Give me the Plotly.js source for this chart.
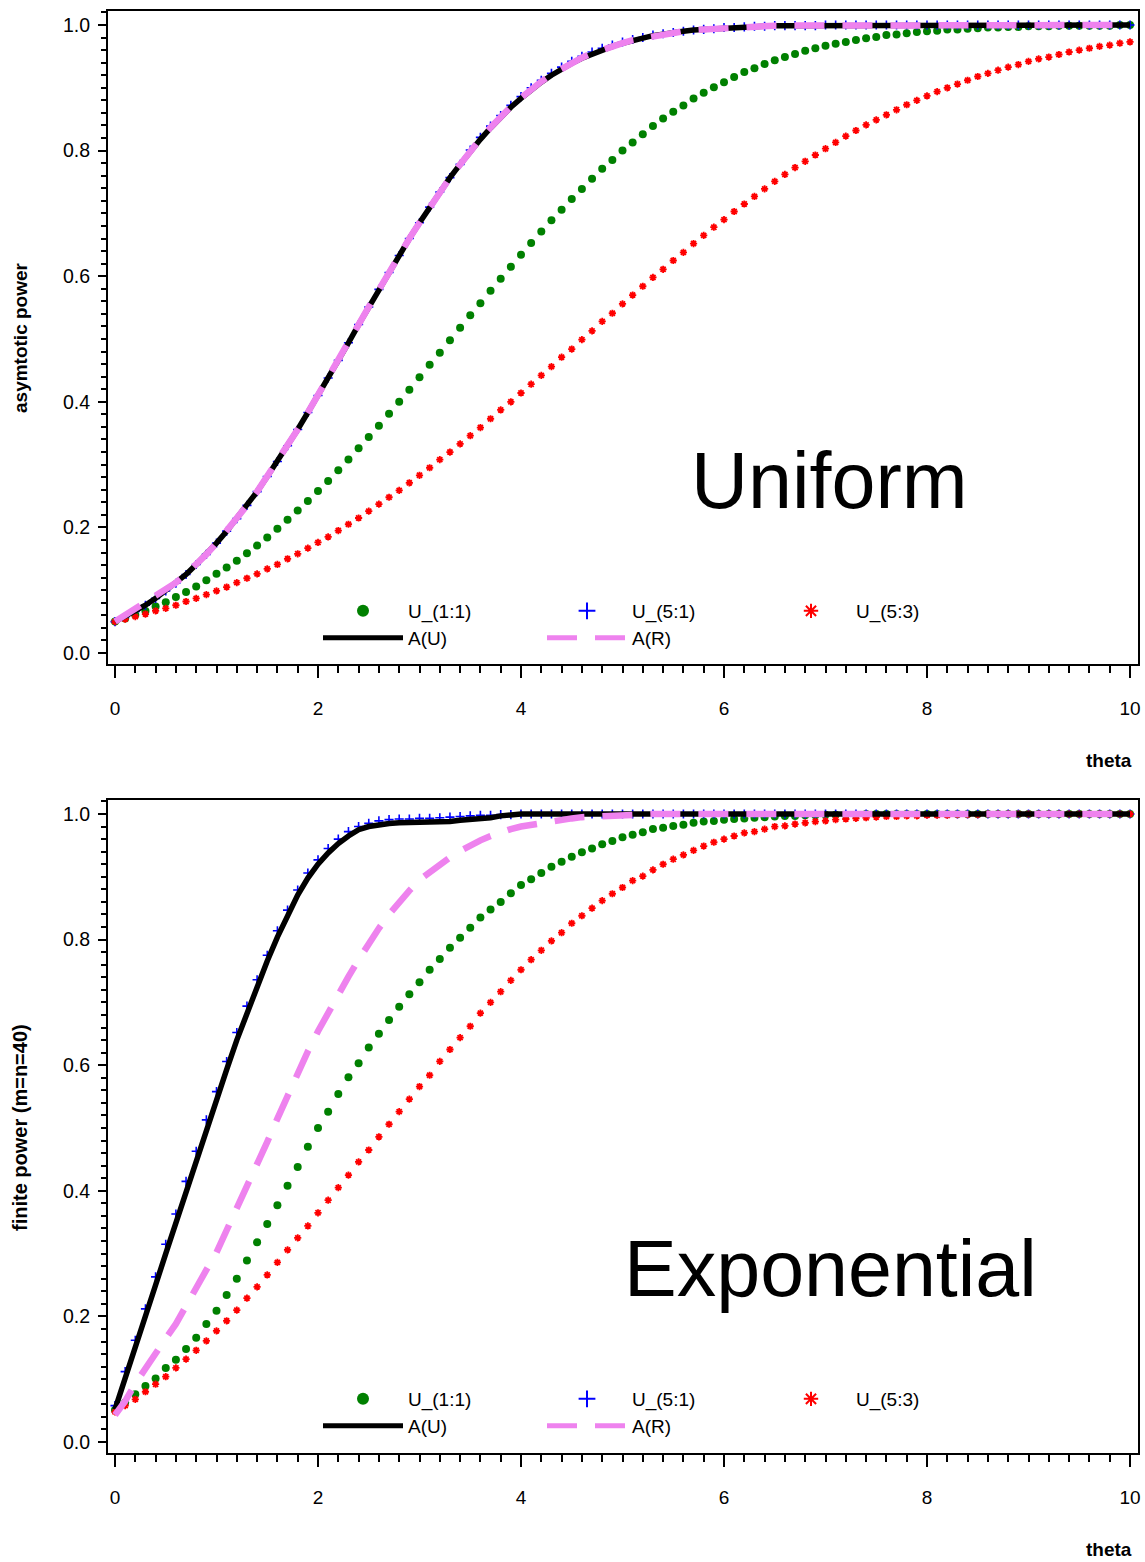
<!DOCTYPE html>
<html>
<head>
<meta charset="utf-8">
<script src="https://cdn.plot.ly/plotly-3.0.1.min.js"></script>
<style>
  html, body { margin: 0; padding: 0; background: #ffffff; }
  #chart { width: 1145px; height: 1562px; }
</style>
</head>
<body>
<div id="chart"></div>
<script>
// ---------------- DATA ----------------
var theta = [
  0.0,0.1,0.2,0.3,0.4,0.5,0.6,0.7,0.8,0.9,
  1.0,1.1,1.2,1.3,1.4,1.5,1.6,1.7,1.8,1.9,
  2.0,2.1,2.2,2.3,2.4,2.5,2.6,2.7,2.8,2.9,
  3.0,3.1,3.2,3.3,3.4,3.5,3.6,3.7,3.8,3.9,
  4.0,4.1,4.2,4.3,4.4,4.5,4.6,4.7,4.8,4.9,
  5.0,5.1,5.2,5.3,5.4,5.5,5.6,5.7,5.8,5.9,
  6.0,6.1,6.2,6.3,6.4,6.5,6.6,6.7,6.8,6.9,
  7.0,7.1,7.2,7.3,7.4,7.5,7.6,7.7,7.8,7.9,
  8.0,8.1,8.2,8.3,8.4,8.5,8.6,8.7,8.8,8.9,
  9.0,9.1,9.2,9.3,9.4,9.5,9.6,9.7,9.8,9.9,
  10.0
];

var seriesNames = ["U_(1:1)", "U_(5:1)", "U_(5:3)", "A(U)", "A(R)"];
var panelLabels = ["Uniform", "Exponential"];
var yTitles = ["asymtotic power", "finite power (m=n=40)"];
var xTitle = "theta";
var xTickVals = [0, 2, 4, 6, 8, 10];
var yTickVals = [0.0, 0.2, 0.4, 0.6, 0.8, 1.0];

// Top panel: Uniform, asymptotic power
var uniU11 = [
  0.050,0.055,0.061,0.067,0.074,0.081,0.089,0.097,0.106,0.116,
  0.126,0.136,0.147,0.159,0.171,0.184,0.198,0.212,0.227,0.242,
  0.258,0.274,0.291,0.308,0.326,0.344,0.362,0.381,0.400,0.419,
  0.439,0.459,0.478,0.498,0.518,0.538,0.557,0.577,0.596,0.615,
  0.634,0.653,0.671,0.689,0.706,0.723,0.739,0.755,0.771,0.785,
  0.800,0.813,0.826,0.839,0.851,0.862,0.872,0.883,0.892,0.901,
  0.909,0.917,0.925,0.931,0.938,0.944,0.949,0.954,0.959,0.963,
  0.967,0.970,0.973,0.976,0.979,0.981,0.984,0.985,0.987,0.989,
  0.990,0.991,0.993,0.993,0.994,0.995,0.996,0.996,0.997,0.997,
  0.998,0.998,0.998,0.999,0.999,0.999,0.999,0.999,0.999,1.000,
  1.000
];
var uniU51 = [
  0.050,0.058,0.066,0.076,0.087,0.099,0.111,0.125,0.141,0.157,
  0.175,0.194,0.214,0.235,0.257,0.281,0.305,0.330,0.356,0.383,
  0.410,0.438,0.466,0.494,0.523,0.551,0.579,0.606,0.633,0.660,
  0.685,0.710,0.734,0.757,0.778,0.801,0.821,0.839,0.856,0.872,
  0.886,0.900,0.912,0.923,0.933,0.942,0.950,0.957,0.963,0.968,
  0.973,0.977,0.980,0.984,0.986,0.988,0.990,0.992,0.993,0.994,
  0.996,0.996,0.997,0.998,0.998,0.999,0.999,0.999,0.999,0.999,
  1.000,1.000,1.000,1.000,1.000,1.000,1.000,1.000,1.000,1.000,
  1.000,1.000,1.000,1.000,1.000,1.000,1.000,1.000,1.000,1.000,
  1.000,1.000,1.000,1.000,1.000,1.000,1.000,1.000,1.000,1.000,
  1.000
];
var uniU53 = [
  0.050,0.054,0.058,0.062,0.067,0.071,0.076,0.082,0.087,0.093,
  0.099,0.105,0.112,0.119,0.126,0.134,0.141,0.150,0.158,0.167,
  0.176,0.185,0.195,0.205,0.215,0.226,0.237,0.248,0.259,0.271,
  0.283,0.295,0.308,0.320,0.333,0.346,0.359,0.373,0.387,0.400,
  0.414,0.428,0.442,0.456,0.471,0.484,0.499,0.513,0.528,0.541,
  0.556,0.570,0.584,0.598,0.611,0.625,0.638,0.652,0.665,0.678,
  0.690,0.703,0.715,0.727,0.739,0.751,0.762,0.773,0.783,0.793,
  0.803,0.813,0.823,0.832,0.841,0.849,0.857,0.865,0.873,0.880,
  0.887,0.894,0.900,0.906,0.912,0.918,0.923,0.928,0.933,0.937,
  0.942,0.946,0.949,0.953,0.957,0.960,0.963,0.966,0.968,0.971,
  0.973
];
var uniAU = [
  0.050,0.058,0.066,0.076,0.087,0.099,0.111,0.125,0.141,0.157,
  0.175,0.194,0.214,0.235,0.257,0.281,0.305,0.330,0.356,0.383,
  0.410,0.438,0.466,0.494,0.523,0.551,0.579,0.606,0.633,0.660,
  0.685,0.710,0.734,0.757,0.778,0.799,0.818,0.836,0.853,0.869,
  0.883,0.897,0.909,0.920,0.930,0.939,0.947,0.954,0.961,0.966,
  0.971,0.976,0.979,0.983,0.986,0.988,0.990,0.992,0.993,0.994,
  0.996,0.996,0.997,0.998,0.998,0.999,0.999,0.999,0.999,0.999,
  1.000,1.000,1.000,1.000,1.000,1.000,1.000,1.000,1.000,1.000,
  1.000,1.000,1.000,1.000,1.000,1.000,1.000,1.000,1.000,1.000,
  1.000,1.000,1.000,1.000,1.000,1.000,1.000,1.000,1.000,1.000,
  1.000
];
var uniAR = [
  0.050,0.060,0.069,0.079,0.089,0.100,0.112,0.126,0.141,0.157,
  0.175,0.194,0.214,0.235,0.257,0.281,0.305,0.330,0.356,0.383,
  0.410,0.438,0.466,0.494,0.523,0.551,0.579,0.606,0.633,0.660,
  0.685,0.710,0.734,0.757,0.778,0.800,0.819,0.837,0.854,0.870,
  0.884,0.898,0.910,0.921,0.931,0.940,0.948,0.955,0.961,0.966,
  0.971,0.976,0.979,0.983,0.986,0.988,0.990,0.992,0.993,0.994,
  0.996,0.996,0.997,0.998,0.998,0.999,0.999,0.999,0.999,0.999,
  1.000,1.000,1.000,1.000,1.000,1.000,1.000,1.000,1.000,1.000,
  1.000,1.000,1.000,1.000,1.000,1.000,1.000,1.000,1.000,1.000,
  1.000,1.000,1.000,1.000,1.000,1.000,1.000,1.000,1.000,1.000,
  1.000
];

// Bottom panel: Exponential, finite power (m=n=40)
var expU11 = [
  0.051,0.063,0.076,0.089,0.101,0.118,0.131,0.148,0.166,0.188,
  0.209,0.234,0.260,0.289,0.318,0.347,0.377,0.408,0.438,0.470,
  0.500,0.526,0.554,0.581,0.603,0.628,0.650,0.672,0.693,0.713,
  0.732,0.752,0.769,0.787,0.803,0.819,0.835,0.848,0.860,0.874,
  0.887,0.896,0.906,0.916,0.924,0.932,0.939,0.945,0.952,0.957,
  0.963,0.967,0.971,0.976,0.978,0.981,0.983,0.986,0.988,0.989,
  0.991,0.992,0.993,0.994,0.995,0.996,0.997,0.997,0.998,0.998,
  0.999,0.999,0.999,0.999,1.000,1.000,1.000,1.000,1.000,1.000,
  1.000,1.000,1.000,1.000,1.000,1.000,1.000,1.000,1.000,1.000,
  1.000,1.000,1.000,1.000,1.000,1.000,1.000,1.000,1.000,1.000,
  1.000
];
var expU51 = [
  0.058,0.112,0.162,0.212,0.263,0.315,0.363,0.415,0.463,0.513,
  0.558,0.606,0.652,0.694,0.736,0.775,0.814,0.847,0.879,0.906,
  0.927,0.945,0.960,0.972,0.980,0.985,0.989,0.991,0.992,0.992,
  0.993,0.993,0.994,0.995,0.996,0.997,0.998,0.998,0.999,0.999,
  1.000,1.000,1.000,1.000,1.000,1.000,1.000,1.000,1.000,1.000,
  1.000,1.000,1.000,1.000,1.000,1.000,1.000,1.000,1.000,1.000,
  1.000,1.000,1.000,1.000,1.000,1.000,1.000,1.000,1.000,1.000,
  1.000,1.000,1.000,1.000,1.000,1.000,1.000,1.000,1.000,1.000,
  1.000,1.000,1.000,1.000,1.000,1.000,1.000,1.000,1.000,1.000,
  1.000,1.000,1.000,1.000,1.000,1.000,1.000,1.000,1.000,1.000,
  1.000
];
var expU53 = [
  0.048,0.058,0.068,0.080,0.092,0.104,0.118,0.132,0.146,0.161,
  0.177,0.193,0.210,0.229,0.247,0.266,0.286,0.306,0.325,0.344,
  0.365,0.385,0.405,0.425,0.446,0.465,0.486,0.506,0.526,0.546,
  0.566,0.584,0.606,0.625,0.644,0.662,0.683,0.700,0.717,0.735,
  0.752,0.768,0.783,0.798,0.811,0.826,0.838,0.850,0.862,0.873,
  0.883,0.894,0.901,0.911,0.920,0.928,0.935,0.942,0.949,0.955,
  0.960,0.965,0.970,0.972,0.976,0.980,0.981,0.984,0.986,0.988,
  0.989,0.991,0.992,0.993,0.994,0.995,0.996,0.996,0.997,0.997,
  0.998,0.998,0.998,0.999,0.999,0.999,1.000,1.000,1.000,1.000,
  1.000,1.000,1.000,1.000,1.000,1.000,1.000,1.000,1.000,1.000,
  1.000
];
var expAU = [
  0.052,0.100,0.150,0.200,0.250,0.300,0.350,0.400,0.450,0.500,
  0.545,0.593,0.640,0.684,0.726,0.766,0.804,0.839,0.871,0.898,
  0.920,0.938,0.953,0.965,0.975,0.980,0.983,0.985,0.986,0.986,
  0.986,0.986,0.987,0.988,0.990,0.991,0.992,0.994,0.997,0.999,
  1.000,1.000,1.000,1.000,1.000,1.000,1.000,1.000,1.000,1.000,
  1.000,1.000,1.000,1.000,1.000,1.000,1.000,1.000,1.000,1.000,
  1.000,1.000,1.000,1.000,1.000,1.000,1.000,1.000,1.000,1.000,
  1.000,1.000,1.000,1.000,1.000,1.000,1.000,1.000,1.000,1.000,
  1.000,1.000,1.000,1.000,1.000,1.000,1.000,1.000,1.000,1.000,
  1.000,1.000,1.000,1.000,1.000,1.000,1.000,1.000,1.000,1.000,
  1.000
];
var expAR = [
  0.043,0.065,0.093,0.118,0.143,0.165,0.188,0.218,0.246,0.274,
  0.302,0.336,0.370,0.404,0.441,0.478,0.515,0.552,0.588,0.622,
  0.654,0.684,0.713,0.741,0.768,0.794,0.818,0.840,0.860,0.878,
  0.895,0.908,0.920,0.931,0.941,0.950,0.958,0.965,0.971,0.976,
  0.980,0.983,0.986,0.989,0.991,0.993,0.995,0.996,0.997,0.998,
  0.999,1.000,1.000,1.000,1.000,1.000,1.000,1.000,1.000,1.000,
  1.000,1.000,1.000,1.000,1.000,1.000,1.000,1.000,1.000,1.000,
  1.000,1.000,1.000,1.000,1.000,1.000,1.000,1.000,1.000,1.000,
  1.000,1.000,1.000,1.000,1.000,1.000,1.000,1.000,1.000,1.000,
  1.000,1.000,1.000,1.000,1.000,1.000,1.000,1.000,1.000,1.000,
  1.000
];

// ---------------- STYLES ----------------
var FONT = "Liberation Sans, Arial, Helvetica, sans-serif";
var W = 1145, H = 1562;

function px2paperY(py) { return 1 - py / H; }
function px2paperX(px) { return px / W; }

function makeTraces(vals, xa, ya, legs) {
  var green = {
    x: theta, y: vals[0], name: seriesNames[0], xaxis: xa, yaxis: ya, legend: legs[0],
    type: 'scatter', mode: 'markers',
    marker: { symbol: 'circle', size: 8, color: '#008000', line: { width: 0 } }
  };
  var blue = {
    x: theta, y: vals[1], name: seriesNames[1], xaxis: xa, yaxis: ya, legend: legs[0],
    type: 'scatter', mode: 'markers',
    marker: { symbol: 'cross-thin-open', size: 6.5, color: '#0000FF', line: { width: 1.6, color: '#0000FF' } }
  };
  var red = {
    x: theta, y: vals[2], name: seriesNames[2], xaxis: xa, yaxis: ya, legend: legs[0],
    type: 'scatter', mode: 'markers',
    marker: { symbol: 'asterisk-open', size: 6, color: '#FF0000', line: { width: 1.8, color: '#FF0000' } }
  };
  var black = {
    x: theta, y: vals[3], name: seriesNames[3], xaxis: xa, yaxis: ya, legend: legs[1],
    type: 'scatter', mode: 'lines',
    line: { color: '#000000', width: 5.5 }
  };
  var pink = {
    x: theta, y: vals[4], name: seriesNames[4], xaxis: xa, yaxis: ya, legend: legs[1],
    type: 'scatter', mode: 'lines',
    line: { color: '#EE82EE', width: 6.5, dash: '30px,18px' }
  };
  return [green, blue, red, black, pink];
}

var traces = []
  .concat(makeTraces([uniU11, uniU51, uniU53, uniAU, uniAR], 'x', 'y', ['legend', 'legend2']))
  .concat(makeTraces([expU11, expU51, expU53, expAU, expAR], 'x2', 'y2', ['legend3', 'legend4']));

var xRange = [(108 - 115) / 101.5, (1138 - 115) / 101.5];
var yRange = [(653 - 664) / 628, 1 + (25 - 11) / 628];
var xDomain = [px2paperX(108), px2paperX(1138)];

function xAxis(anchor) {
  return {
    anchor: anchor, domain: xDomain, range: xRange,
    showgrid: false, zeroline: false,
    showline: true, mirror: true, linecolor: '#000', linewidth: 2,
    ticks: 'outside', ticklen: 12, tickwidth: 2, tickcolor: '#000',
    tickvals: xTickVals, ticktext: xTickVals.map(String),
    ticklabelstandoff: 14,
    minor: { dtick: 0.2, tick0: 0, ticks: 'outside', ticklen: 7, tickwidth: 2, tickcolor: '#000', showgrid: false },
    tickfont: { family: FONT, size: 19, color: '#000' }
  };
}
function yAxis(anchor, dom) {
  return {
    anchor: anchor, domain: dom, range: yRange,
    showgrid: false, zeroline: false,
    showline: true, mirror: true, linecolor: '#000', linewidth: 2,
    ticks: 'outside', ticklen: 8, tickwidth: 2, tickcolor: '#000',
    tickvals: yTickVals, ticktext: yTickVals.map(function (v) { return v.toFixed(1); }),
    ticklabelstandoff: 4,
    minor: { dtick: 0.02, tick0: 0, ticks: 'outside', ticklen: 5, tickwidth: 2, tickcolor: '#000', showgrid: false },
    tickfont: { family: FONT, size: 19.5, color: '#000' }
  };
}

function legendAt(pxX, pxY) {
  return {
    orientation: 'h', xref: 'paper', yref: 'paper',
    x: px2paperX(pxX), xanchor: 'left',
    y: px2paperY(pxY), yanchor: 'middle',
    bgcolor: 'rgba(0,0,0,0)', borderwidth: 0,
    itemwidth: 80, itemsizing: 'constant',
    entrywidth: 129, entrywidthmode: 'pixels',
    font: { family: FONT, size: 19, color: '#000' },
    traceorder: 'normal', tracegroupgap: 0
  };
}

var layout = {
  width: W, height: H,
  margin: { l: 0, r: 0, t: 0, b: 0, autoexpand: false },
  paper_bgcolor: '#fff', plot_bgcolor: '#fff',
  showlegend: true,
  xaxis: xAxis('y'),
  yaxis: yAxis('x', [px2paperY(664), px2paperY(11)]),
  xaxis2: xAxis('y2'),
  yaxis2: yAxis('x2', [px2paperY(1453), px2paperY(800)]),
  legend: legendAt(318, 611),
  legend2: legendAt(318, 638),
  legend3: legendAt(318, 1399),
  legend4: legendAt(318, 1426),
  annotations: [
    { text: panelLabels[0], xref: 'x', yref: 'y', x: 7.04, y: 0.275, showarrow: false,
      font: { family: FONT, size: 79, color: '#000' }, xanchor: 'center', yanchor: 'middle' },
    { text: panelLabels[1], xref: 'x2', yref: 'y2', x: 7.05, y: 0.277, showarrow: false,
      font: { family: FONT, size: 79, color: '#000' }, xanchor: 'center', yanchor: 'middle' },
    { text: yTitles[0], xref: 'paper', yref: 'paper', x: px2paperX(20), y: px2paperY(338),
      textangle: -90, showarrow: false, xanchor: 'center', yanchor: 'middle',
      font: { family: FONT, size: 19, color: '#000', weight: 'bold' } },
    { text: yTitles[1], xref: 'paper', yref: 'paper', x: px2paperX(20), y: px2paperY(1128),
      textangle: -90, showarrow: false, xanchor: 'center', yanchor: 'middle',
      font: { family: FONT, size: 20, color: '#000', weight: 'bold' } },
    { text: xTitle, xref: 'paper', yref: 'paper', x: px2paperX(1134), y: px2paperY(761),
      showarrow: false, xanchor: 'right', yanchor: 'middle',
      font: { family: FONT, size: 19, color: '#000', weight: 'bold' } },
    { text: xTitle, xref: 'paper', yref: 'paper', x: px2paperX(1134), y: px2paperY(1549),
      showarrow: false, xanchor: 'right', yanchor: 'middle',
      font: { family: FONT, size: 19, color: '#000', weight: 'bold' } }
  ]
};

Plotly.newPlot('chart', traces, layout, { staticPlot: true, displayModeBar: false });
</script>
</body>
</html>
